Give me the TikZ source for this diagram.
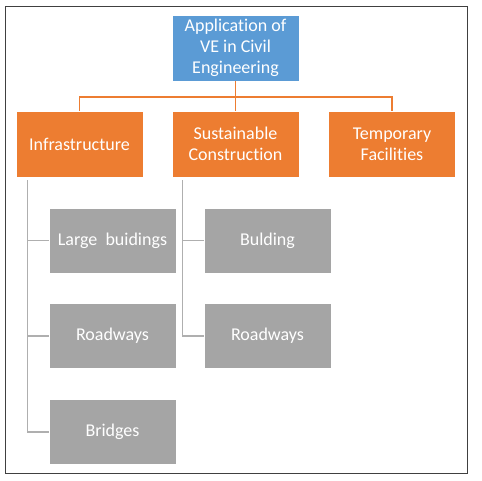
\documentclass[tikz,border=0pt]{standalone}
\usepackage{fontspec}
\setmainfont[Ligatures=NoCommon]{Carlito}
\usepackage{tikz}
\usetikzlibrary{calc}
\usepackage{xcolor}
\definecolor{veblue}{HTML}{5B9BD5}
\definecolor{veorange}{HTML}{ED7D31}
\definecolor{vegray}{HTML}{A5A5A5}
\definecolor{velink}{HTML}{AFAFAF}

\begin{document}
\begin{tikzpicture}[x=1pt,y=-1pt,
		box/.style={draw=white,line width=0.6pt,text=white,align=center,
			minimum width=127pt,minimum height=66pt,inner sep=0pt,
			font=\fontsize{18}{21}\selectfont},
		rootbox/.style={box,fill=veblue},
		mainbox/.style={box,fill=veorange},
		subbox/.style={box,fill=vegray,minimum height=65pt},
		olink/.style={draw=veorange,line width=1.6pt},
		glink/.style={draw=velink,line width=1.2pt}]
	
	\useasboundingbox (0,0) rectangle (482,481);
	
	% --- frame ---
	\draw[black!75,line width=0.9pt] (5,6) rectangle (467,473);
	
	% --- top level ---
	\node[rootbox] (root) at (235.5,48) {Application of\\VE in Civil\\Engineering};
	
	% --- second level (orange) ---
	\node[mainbox] (infra) at (79.5,144) {Infrastructure};
	\node[mainbox] (sust) at (235.5,144) {Sustainable\\Construction};
	\node[mainbox] (temp) at (392,144) {Temporary\\Facilities};
	
	\coordinate (bar) at ($(root.south)+(0,16)$);
	\draw[olink] (root.south) -- (bar);
	\draw[olink] (bar) -| (infra.north);
	\draw[olink] (bar) -| (temp.north);
	\draw[olink] (bar) -- (sust.north);
	
	% --- third level (gray) ---
	\begin{scope}
		\node[subbox] (large) at (112.5,240.5) {Large\ \ buidings};
		\node[subbox] (road) at (112.5,336) {Roadways};
		\node[subbox] (bridge) at (112.5,432) {Bridges};
		
		\coordinate (infratap) at ($(infra.south west)+(12,3)$);
		\draw[glink] (infratap) |- (bridge.west);
		\draw[glink] (infratap |- large.west) -- (large.west);
		\draw[glink] (infratap |- road.west) -- (road.west);
	\end{scope}
	
	\begin{scope}
		\node[subbox] (build) at (267.5,240.5) {Bulding};
		\node[subbox] (sroad) at (267.5,336) {Roadways};
		
		\coordinate (susttap) at ($(sust.south west)+(11,3)$);
		\draw[glink] (susttap) |- (sroad.west);
		\draw[glink] (susttap |- build.west) -- (build.west);
	\end{scope}
	
\end{tikzpicture}
\end{document}
